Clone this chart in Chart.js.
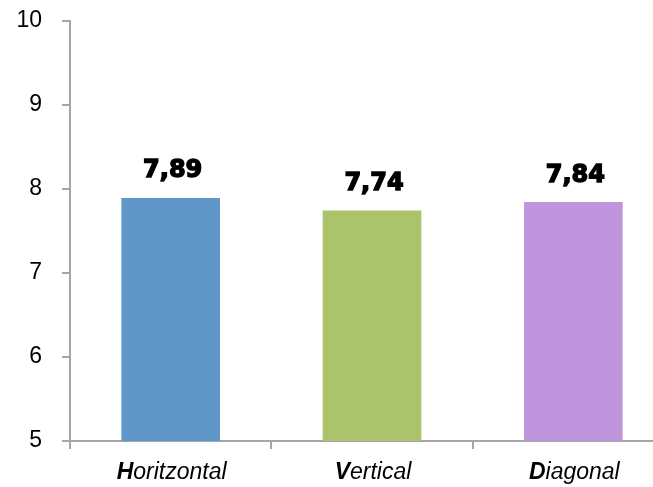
<!DOCTYPE html>
<html>
<head>
<meta charset="utf-8">
<script src="https://cdn.jsdelivr.net/npm/chart.js@4"></script>
<style>
  html, body { margin: 0; padding: 0; background: #fff; overflow: hidden; }
  #wrap { width: 676px; height: 487px; }
</style>
</head>
<body>
<div id="wrap"><canvas id="chart"></canvas></div>
<script>
// chart data
const categories = ['Horitzontal', 'Vertical', 'Diagonal'];
const scores = [7.89, 7.74, 7.84];
const barColors = ['#6096c8', '#abc46b', '#bf95dd'];
const yTicks = [5, 6, 7, 8, 9, 10];

const axisColor = '#a6a6a6';

// value labels above each bar (7,89 style)
const valueLabels = {
  id: 'valueLabels',
  afterDatasetsDraw(chart) {
    const ctx = chart.ctx;
    const meta = chart.getDatasetMeta(0);
    ctx.save();
    ctx.font = 'bold 24px "DejaVu Sans"';
    ctx.textAlign = 'center';
    ctx.textBaseline = 'middle';
    ctx.fillStyle = '#000';
    ctx.strokeStyle = '#000';
    ctx.lineWidth = 1.4;
    meta.data.forEach((bar, i) => {
      const txt = scores[i].toFixed(2).replace('.', ',');
      ctx.fillText(txt, bar.x + 2, bar.y - 27);
      ctx.strokeText(txt, bar.x + 2, bar.y - 27);
    });
    ctx.restore();
  }
};

// category labels: bold italic first letter, italic rest
const categoryLabels = {
  id: 'categoryLabels',
  afterDraw(chart) {
    const ctx = chart.ctx;
    const x = chart.scales.x;
    const meta = chart.getDatasetMeta(0);
    ctx.save();
    ctx.fillStyle = '#000';
    ctx.textBaseline = 'alphabetic';
    ctx.textAlign = 'left';
    const boldFont = 'italic bold 23px "Liberation Sans"';
    const normFont = 'italic 23px "Liberation Sans"';
    categories.forEach((label, i) => {
      const first = label.charAt(0);
      const rest = label.slice(1);
      ctx.font = boldFont;
      const w1 = ctx.measureText(first).width;
      ctx.font = normFont;
      const w2 = ctx.measureText(rest).width;
      const cx = meta.data[i].x + 1;
      const start = cx - (w1 + w2) / 2;
      const y = x.bottom + 30;
      ctx.font = boldFont;
      ctx.fillText(first, start, y);
      ctx.font = normFont;
      ctx.fillText(rest, start + w1, y);
    });
    ctx.restore();
  }
};

const chartCtx = document.getElementById('chart').getContext('2d');
const barChart = new Chart(chartCtx, {
  type: 'bar',
  data: {
    labels: categories,
    datasets: [{
      data: scores,
      backgroundColor: barColors,
      borderWidth: 0,
      barThickness: 98
    }]
  },
  options: {
    responsive: true,
    maintainAspectRatio: false,
    animation: false,
    layout: {
      padding: { top: 21, right: 2, bottom: 38, left: 0 }
    },
    plugins: {
      legend: { display: false },
      tooltip: { enabled: false }
    },
    scales: {
      x: {
        offset: true,
        grid: {
          offset: true,
          drawOnChartArea: false,
          drawTicks: true,
          tickLength: 8,
          color: axisColor,
          lineWidth: 2
        },
        border: { display: true, color: axisColor, width: 2 },
        ticks: { display: false }
      },
      y: {
        min: yTicks[0],
        max: yTicks[yTicks.length - 1],
        afterBuildTicks: (axis) => {
          axis.ticks = yTicks.map(v => ({ value: v }));
        },
        afterFit: (axis) => {
          axis.width = 70;
          axis.paddingTop = 0;
          axis.paddingBottom = 0;
        },
        grid: {
          drawOnChartArea: false,
          tickLength: 8,
          color: axisColor,
          lineWidth: 2
        },
        border: { display: true, color: axisColor, width: 2 },
        ticks: {
          padding: 20,
          color: '#000',
          font: { family: 'Liberation Sans', size: 23 }
        }
      }
    }
  },
  plugins: [valueLabels, categoryLabels]
});
</script>
</body>
</html>
